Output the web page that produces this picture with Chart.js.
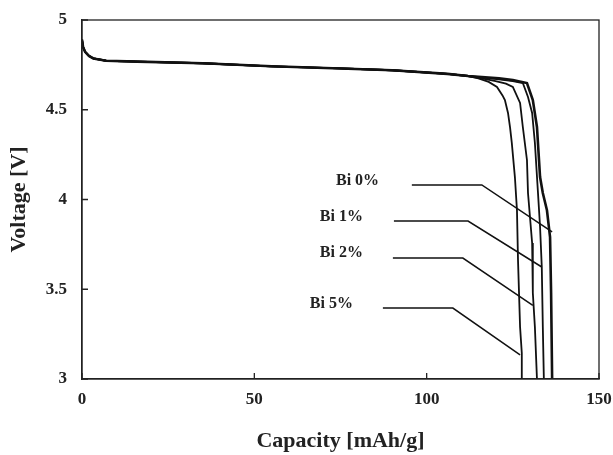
<!DOCTYPE html>
<html>
<head>
<meta charset="utf-8">
<script src="https://cdn.jsdelivr.net/npm/chart.js@4.4.1/dist/chart.umd.min.js"></script>
<style>
	body { margin: 0; background: #fff; }
	#wrap { width: 613px; height: 455px; }
</style>
</head>
<body>
<div id="wrap"><canvas id="chart" width="613" height="455"></canvas></div>
<script>
// shared plateau (all four samples sit on top of each other here)
const plateauCap = [0, 0.3, 0.9, 2, 3.3, 7, 16, 35, 55, 75, 90, 106, 112];
const plateauVolt = [4.89, 4.85, 4.823, 4.80, 4.786, 4.773, 4.768, 4.759, 4.742, 4.73, 4.72, 4.70, 4.688];

// knee + drop for each sample
const bi0Cap = [116, 121, 125, 129.1, 130.8, 132.0, 132.9, 133.7, 134.9, 135.8, 136.1, 136.4];
const bi0Volt = [4.682, 4.675, 4.665, 4.649, 4.554, 4.404, 4.125, 4.036, 3.94, 3.79, 3.48, 3.0];
const bi1Cap = [116, 121, 125, 127.9, 129.4, 130.6, 131.4, 132.3, 132.9, 133.4, 133.7, 134.0];
const bi1Volt = [4.68, 4.67, 4.66, 4.649, 4.571, 4.482, 4.315, 4.036, 3.847, 3.624, 3.29, 3.0];
const bi2Cap = [116, 120, 123, 125, 127.1, 127.9, 129.1, 129.4, 130.6, 130.8, 131.4, 132.0];
const bi2Volt = [4.675, 4.66, 4.645, 4.627, 4.538, 4.404, 4.22, 4.036, 3.758, 3.48, 3.29, 3.0];
const bi5Cap = [115, 118, 120.4, 122, 122.7, 123.6, 124.2, 124.7, 125.6, 126.2, 126.5, 127.1, 127.6, 127.6];
const bi5Volt = [4.675, 4.655, 4.627, 4.58, 4.554, 4.482, 4.40, 4.315, 4.125, 3.94, 3.663, 3.29, 3.145, 3.0];

// label callouts
const labelNames = ['Bi 0%', 'Bi 1%', 'Bi 2%', 'Bi 5%'];
const labelCap = [86.2, 81.5, 81.5, 78.6];
const labelVolt = [4.103, 3.903, 3.70, 3.418];
const leaderCap = [[95.7, 116.0, 136.4], [90.5, 112.0, 133.4], [90.2, 110.5, 130.8], [87.3, 107.6, 127.1]];
const leaderVolt = [[4.081, 4.081, 3.819], [3.88, 3.88, 3.624], [3.674, 3.674, 3.41], [3.395, 3.395, 3.134]];

const xTicks = [0, 50, 100, 150];
const yTicks = [3, 3.5, 4, 4.5, 5];

const toPts = (cs, vs) => cs.map((c, i) => ({ x: c, y: vs[i] }));

const curve = (cs, vs, w) => ({
	data: toPts(plateauCap.concat(cs), plateauVolt.concat(vs)),
	borderColor: '#111',
	borderWidth: w,
	pointRadius: 0,
	showLine: true,
	tension: 0,
});

const datasets = [
	curve(bi0Cap, bi0Volt, 2.6),
	curve(bi1Cap, bi1Volt, 1.8),
	curve(bi2Cap, bi2Volt, 1.8),
	curve(bi5Cap, bi5Volt, 1.8),
];
leaderCap.forEach((cs, i) => {
	datasets.push({
		data: toPts(cs, leaderVolt[i]),
		borderColor: '#111',
		borderWidth: 1.5,
		pointRadius: 0,
		showLine: true,
	});
});

const serif = 'Liberation Serif';

const frame = {
	id: 'frame',
	afterDatasetsDraw(chart) {
		const { ctx, chartArea: a, scales } = chart;
		ctx.save();
		ctx.strokeStyle = '#222';
		ctx.lineWidth = 1.3;
		ctx.strokeRect(a.left, a.top, a.right - a.left, a.bottom - a.top);
		// inward tick marks
		ctx.beginPath();
		xTicks.forEach(v => {
			const px = scales.x.getPixelForValue(v);
			ctx.moveTo(px, a.bottom);
			ctx.lineTo(px, a.bottom - 6);
		});
		yTicks.forEach(v => {
			const py = scales.y.getPixelForValue(v);
			ctx.moveTo(a.left, py);
			ctx.lineTo(a.left + 6, py);
		});
		ctx.stroke();
		// callout labels
		ctx.fillStyle = '#222';
		ctx.font = 'bold 16px "' + serif + '"';
		ctx.textAlign = 'right';
		ctx.textBaseline = 'middle';
		labelNames.forEach((t, i) => {
			ctx.fillText(t, scales.x.getPixelForValue(labelCap[i]), scales.y.getPixelForValue(labelVolt[i]));
		});
		ctx.restore();
	},
};

new Chart(document.getElementById('chart').getContext('2d'), {
	type: 'scatter',
	data: { datasets },
	options: {
		responsive: false,
		animation: false,
		layout: { padding: { left: 0, top: 20, right: 14, bottom: 0 } },
		plugins: { legend: { display: false }, tooltip: { enabled: false } },
		scales: {
			x: {
				type: 'linear',
				min: 0,
				max: 150,
				afterBuildTicks: s => { s.ticks = xTicks.map(v => ({ value: v })); },
				afterFit: s => { s.height = 76; s.paddingLeft = 0; s.paddingRight = 0; },
				grid: { display: false, drawTicks: false },
				border: { display: true, color: '#222', width: 1.3 },
				ticks: { color: '#222', padding: 10, font: { family: serif, size: 17, weight: 'bold' }, callback: v => String(v) },
				title: {
					display: true,
					text: 'Capacity [mAh/g]',
					color: '#222',
					font: { family: serif, size: 22, weight: 'bold' },
					padding: { top: 0, bottom: 0 },
				},
			},
			y: {
				type: 'linear',
				min: 3,
				max: 5,
				afterBuildTicks: s => { s.ticks = yTicks.map(v => ({ value: v })); },
				afterFit: s => { s.width = 82; s.paddingTop = 0; s.paddingBottom = 0; },
				grid: { display: false, drawTicks: false },
				border: { display: true, color: '#222', width: 1.3 },
				ticks: { color: '#222', padding: 15, font: { family: serif, size: 17, weight: 'bold' }, callback: v => String(v) },
				title: {
					display: true,
					text: 'Voltage [V]',
					color: '#222',
					font: { family: serif, size: 22, weight: 'bold' },
					padding: { top: 6, bottom: 0 },
				},
			},
		},
	},
	plugins: [frame],
});
</script>
</body>
</html>
